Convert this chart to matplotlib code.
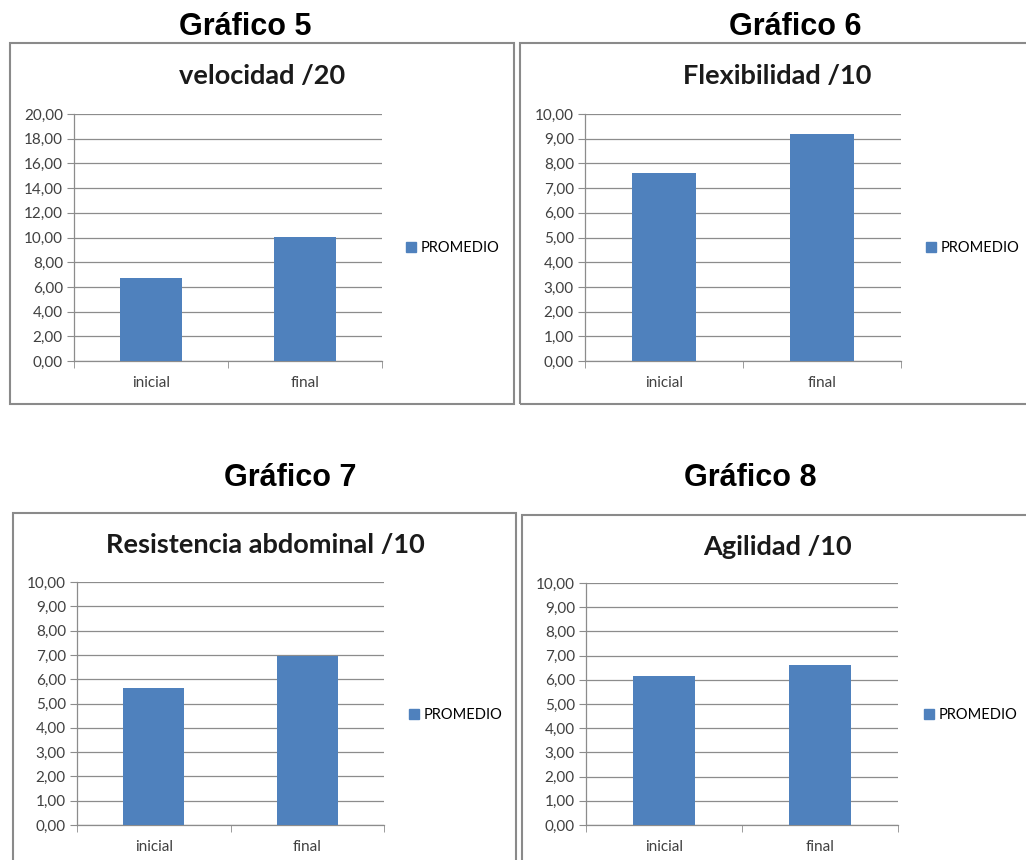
import matplotlib
matplotlib.use("Agg")
import matplotlib.pyplot as plt
from matplotlib.patches import Rectangle, Patch

W, H = 1026, 860

categorias = ["inicial", "final"]
velocidad = [6.72, 10.04]
flexibilidad = [7.61, 9.19]
resistencia = [5.65, 6.96]
agilidad = [6.16, 6.62]

encabezados = ["Gráfico 5", "Gráfico 6", "Gráfico 7", "Gráfico 8"]
titulos = ["velocidad /20", "Flexibilidad /10", "Resistencia abdominal /10", "Agilidad /10"]
series = [velocidad, flexibilidad, resistencia, agilidad]
maximos = [20, 10, 10, 10]
pasos = [2, 1, 1, 1]

AZUL = "#4F81BD"
GRIS = "#8c8c8c"
TXT = "#404040"

# pixel layout of each chart: plot area, frame, legend, title and heading
layout = [
    dict(plot=(74, 114, 382, 361), frame=(10, 43, 514, 404), leg=(406, 248),
         title=(262, 76), head=(245, 27)),
    dict(plot=(585, 114, 901, 361), frame=(520, 43, 1032, 404), leg=(926, 248),
         title=(777, 76), head=(795, 27)),
    dict(plot=(77, 582, 384, 825), frame=(13, 513, 516, 870), leg=(409, 715),
         title=(265, 545), head=(290, 478)),
    dict(plot=(586, 583, 898, 825), frame=(522, 515, 1032, 870), leg=(924, 715),
         title=(777, 547), head=(750, 478)),
]


def fx(x):
    return x / W


def fy(y):
    return 1 - y / H


fig = plt.figure(figsize=(W / 100, H / 100), dpi=100)
fig.patch.set_facecolor("white")

for i in range(4):
    lay = layout[i]
    l, t, r, b = lay["plot"]
    ax = fig.add_axes([fx(l), fy(b), (r - l) / W, (b - t) / H])

    ax.bar(range(len(categorias)), series[i], width=0.4, color=AZUL, zorder=3)
    ax.set_xlim(-0.5, len(categorias) - 0.5)
    ax.set_ylim(0, maximos[i])

    ticks = list(range(0, maximos[i] + 1, pasos[i]))
    ax.set_yticks(ticks)
    ax.set_yticklabels([f"{v:.2f}".replace(".", ",") for v in ticks],
                       fontfamily="Lato", fontsize=11, color=TXT)
    ax.set_xticks(range(len(categorias)))
    ax.set_xticklabels(categorias, fontfamily="Lato", fontsize=11, color=TXT)
    ax.set_xticks([-0.5, 0.5, 1.5], minor=True)
    ax.tick_params(axis="x", which="major", length=0, pad=11)
    ax.tick_params(axis="x", which="minor", length=5, color=GRIS, direction="out")
    ax.tick_params(axis="y", length=5, color=GRIS, direction="out", pad=3)

    ax.grid(axis="y", color=GRIS, lw=0.9, zorder=0)
    for s in ["top", "right"]:
        ax.spines[s].set_visible(False)
    for s in ["left", "bottom"]:
        ax.spines[s].set_color(GRIS)
        ax.spines[s].set_linewidth(0.9)

    lx, ly = lay["leg"]
    ax.legend(handles=[Patch(color=AZUL, label="PROMEDIO")], loc="center left",
              bbox_to_anchor=(fx(lx), fy(ly)), bbox_transform=fig.transFigure,
              frameon=False, handlelength=0.7, handleheight=0.7, handletextpad=0.3,
              borderpad=0, borderaxespad=0, prop={"family": "Lato", "size": 10.5})

    tx, ty = lay["title"]
    fig.text(fx(tx), fy(ty), titulos[i], ha="center", va="center",
             fontfamily="Lato", fontweight="bold", fontsize=19.5, color="#1a1a1a")

    hx, hy = lay["head"]
    fig.text(fx(hx), fy(hy), encabezados[i], ha="center", va="center",
             fontfamily="Liberation Sans", fontweight="bold", fontsize=22, color="black")

    fl, ft, fr, fb = lay["frame"]
    fig.patches.append(Rectangle((fx(fl), fy(fb)), (fr - fl) / W, (fb - ft) / H,
                                 transform=fig.transFigure, fill=False,
                                 edgecolor="#8a8a8a", lw=1.5))

fig.savefig("out.png", dpi=100)
